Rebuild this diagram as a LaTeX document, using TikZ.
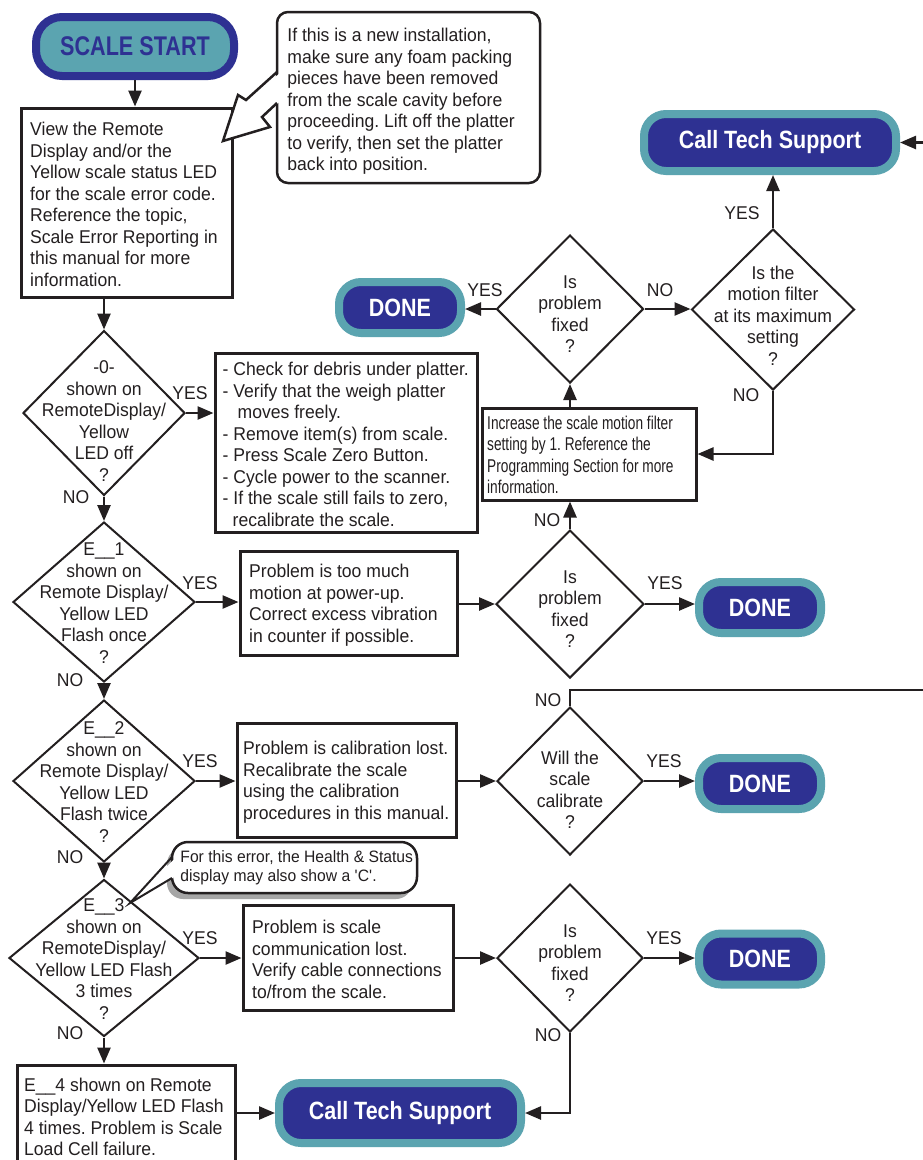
\documentclass[tikz,border=0pt]{standalone}
\usepackage{fontspec}
\usetikzlibrary{shapes.geometric,arrows.meta,shadows,calc}
\newfontfamily\bodyf[FakeStretch=0.95]{Liberation Sans}
\newfontfamily\narrf[FakeStretch=0.74]{Liberation Sans}
\newfontfamily\boldf[FakeStretch=0.86]{Liberation Sans}
\newfontfamily\startf[FakeStretch=0.8]{Liberation Sans}
\definecolor{ink}{HTML}{231F20}
\definecolor{navy}{HTML}{2E3192}
\definecolor{teal2}{HTML}{5BA4B0}
\frenchspacing
\tikzset{
 txt/.style={font=\bodyf\fontsize{18.5pt}{21.5pt}\selectfont, text=ink},
 dia/.style={diamond, draw=ink, line width=2pt, inner sep=0pt, fill=white},
 dtext/.style={txt, align=center, inner sep=0pt},
 box/.style={draw=ink, line width=3pt, inner sep=0pt, fill=white},
 btext/.style={txt, align=left, anchor=west, inner sep=0pt},
 term/.style={draw=teal2, fill=navy, line width=8pt, rounded corners=22pt, inner sep=0pt, text=white, font=\boldf\bfseries\fontsize{25pt}{30pt}\selectfont},
 startbox/.style={draw=navy, fill=teal2, line width=8pt, rounded corners=26pt, inner sep=0pt, text=navy, font=\startf\bfseries\fontsize{27pt}{30pt}\selectfont},
 arr/.style={draw=ink, line width=2.5pt, -{Triangle[length=16pt,width=13pt]}},
 conn/.style={draw=ink, line width=2.5pt},
 lbl/.style={txt, inner sep=0pt},
 callbox/.style={draw=ink, line width=2.5pt, fill=white, rounded corners=11pt, inner sep=0pt},
}
\begin{document}
\begin{tikzpicture}[x=1pt,y=-1pt]
\useasboundingbox (0,0) rectangle (923,1160);
\clip (0,0) rectangle (923,1160);
\fill[white] (0,0) rectangle (923,1160);

% ---------- left column ----------
\node[startbox, minimum width=198pt, minimum height=59pt] (start) at (135,46.5) {SCALE START};

\node[box, minimum width=211pt, minimum height=189pt,
  label={[btext, xshift=10.5pt, yshift=-2pt]west:{View the Remote\\Display and/or the\\Yellow scale status LED\\for the scale error code.\\Reference the topic,\\Scale Error Reporting in\\this manual for more\\information.}}] (view) at (126.5,202.5) {};

\node[callbox, minimum width=263pt, minimum height=171pt,
  label={[btext, xshift=11.5pt, yshift=-4pt]west:{If this is a new installation,\\make sure any foam packing\\pieces have been removed\\from the scale cavity before\\proceeding. Lift off the platter\\to verify, then set the platter\\back into position.}}] (c1) at (408.5,97.5) {};
\fill[white] (279.5,73.5) -- (246,100) -- (238,95) -- (223,141) -- (270,127) -- (262,117) -- (279.5,102) -- cycle;
\draw[ink, line width=2.5pt] (277,72) -- (246,100) -- (238,95) -- (223,141) -- (270,127) -- (262,117) -- (277,103);

\node[dia, minimum width=162pt, minimum height=165pt,
  label={[dtext, yshift=-8pt]center:{-0-\\shown on\\RemoteDisplay/\\Yellow\\LED off\\?}}] (d0) at (104,413) {};

\node[box, minimum width=262pt, minimum height=179pt,
  label={[btext, xshift=9pt, yshift=-2pt]west:{- Check for debris under platter.\\- Verify that the weigh platter\\\hspace*{15pt}moves freely.\\- Remove item(s) from scale.\\- Press Scale Zero Button.\\- Cycle power to the scanner.\\- If the scale still fails to zero,\\\hspace*{10pt}recalibrate the scale.}}] (chk) at (346,442.5) {};

\node[dia, minimum width=182pt, minimum height=160pt,
  label={[dtext, yshift=-1pt]center:{E\_\_1\\shown on\\Remote Display/\\Yellow LED\\Flash once\\?}}] (d1) at (104,602) {};

\node[box, minimum width=217pt, minimum height=104pt,
  label={[btext, xshift=10.5pt, yshift=-2pt]west:{Problem is too much\\motion at power-up.\\Correct excess vibration\\in counter if possible.}}] (e1) at (348.5,603) {};

\node[dia, minimum width=182pt, minimum height=162pt,
  label={[dtext, yshift=-1pt]center:{E\_\_2\\shown on\\Remote Display/\\Yellow LED\\Flash twice\\?}}] (d2) at (104,781) {};

\node[box, minimum width=219pt, minimum height=114pt,
  label={[btext, xshift=7.5pt, yshift=-2pt]west:{Problem is calibration lost.\\Recalibrate the scale\\using the calibration\\procedures in this manual.}}] (e2) at (346.5,780) {};

\node[dia, minimum width=190pt, minimum height=157pt,
  label={[dtext, yshift=-1pt]center:{E\_\_3\\shown on\\RemoteDisplay/\\Yellow LED Flash\\3 times\\?}}] (d3) at (104,958) {};

\node[box, minimum width=210pt, minimum height=105pt,
  label={[btext, xshift=10.5pt, yshift=-2pt]west:{Problem is scale\\communication lost.\\Verify cable connections\\to/from the scale.}}] (e3) at (348,957.5) {};

\node[box, minimum width=218pt, minimum height=110pt,
  label={[btext, xshift=8.5pt, yshift=3pt]west:{E\_\_4 shown on Remote\\Display/Yellow LED Flash\\4 times. Problem is Scale\\Load Cell failure.}}] (e4) at (126,1120) {};

\node[term, minimum width=242pt, minimum height=60pt] (cts2) at (400,1113) {Call Tech Support};

% small callout
\node[callbox, rounded corners=16pt, minimum width=245pt, minimum height=51pt,
  drop shadow={shadow xshift=-5pt, shadow yshift=-6pt, fill=black!35, opacity=1},
  label={[btext, font=\bodyf\fontsize{16.5pt}{19pt}\selectfont, xshift=9.5pt]west:{For this error, the Health \& Status\\display may also show a \textquotesingle C\textquotesingle.}}] (c2) at (294.5,867.5) {};
\fill[white] (174.5,859) -- (130,903) -- (174.5,877) -- cycle;
\draw[ink, line width=2pt] (172,857) -- (130,903) -- (172,878);

% ---------- right part ----------
\node[term, minimum width=252pt, minimum height=57pt] (cts1) at (770,142.5) {Call Tech Support};
\node[term, minimum width=122pt, minimum height=51pt] (done1) at (400,307.5) {DONE};
\node[term, minimum width=122pt, minimum height=51pt] (done2) at (760,607.5) {DONE};
\node[term, minimum width=122pt, minimum height=51pt] (done3) at (760,783.5) {DONE};
\node[term, minimum width=122pt, minimum height=51pt] (done4) at (760,959) {DONE};

\node[dia, minimum width=147pt, minimum height=148pt,
  label={[dtext, yshift=-5pt]center:{Is\\problem\\fixed\\?}}] (f0) at (570,309) {};
\node[dia, minimum width=163pt, minimum height=161pt,
  label={[dtext, yshift=-6pt]center:{Is the\\motion filter\\at its maximum\\setting\\?}}] (m) at (773,309.5) {};
\node[box, minimum width=214pt, minimum height=92pt,
  label={[btext, font=\narrf\fontsize{18.5pt}{21.5pt}\selectfont, xshift=6.5pt, yshift=-1pt]west:{Increase the scale motion filter\\setting by 1. Reference the\\Programming Section for more\\information.}}] (inc) at (589,454) {};
\node[dia, minimum width=148pt, minimum height=148pt,
  label={[dtext, yshift=-5pt]center:{Is\\problem\\fixed\\?}}] (f1) at (570,604) {};
\node[dia, minimum width=146pt, minimum height=148pt,
  label={[dtext, yshift=-9pt]center:{Will the\\scale\\calibrate\\?}}] (w) at (570,781) {};
\node[dia, minimum width=146pt, minimum height=148pt,
  label={[dtext, yshift=-5pt]center:{Is\\problem\\fixed\\?}}] (f3) at (570,958) {};

\coordinate (redge) at (923,690);
\coordinate (redge2) at (923,142.5);

% ---------- connectors ----------
\draw[arr] (start.south) -- (start.south |- view.north);
\draw[arr] (d0.north |- view.south) -- (d0.north);
\draw[arr] (d0.east) -- (d0.east -| chk.west);
\draw[arr] (d0.south) -- (d1.north);
\draw[arr] (d1.east) -- (d1.east -| e1.west);
\draw[arr] (f1.west -| e1.east) -- (f1.west);
\draw[arr] (f1.east) -- (f1.east -| done2.west);
\draw[arr] (f1.north) -- (f1.north |- inc.south);
\draw[arr] (f0.south |- inc.north) -- (f0.south);
\draw[arr] (f0.west) -- (f0.west -| done1.east);
\draw[arr] (f0.east) -- (f0.east -| m.west);
\draw[arr] (m.north) -- (m.north |- cts1.south);
\draw[arr] (m.south) |- (inc.east);
\draw[arr] (redge2) -- (cts1.east);
\draw[arr] (d1.south) -- (d2.north);
\draw[arr] (d2.east) -- (d2.east -| e2.west);
\draw[arr] (w.west -| e2.east) -- (w.west);
\draw[arr] (w.east) -- (w.east -| done3.west);
\draw[conn] (w.north) -- (w.north |- redge) -- (redge);
\draw[arr] (d2.south) -- (d3.north);
\draw[arr] (d3.east) -- (d3.east -| e3.west);
\draw[arr] (f3.west -| e3.east) -- (f3.west);
\draw[arr] (f3.east) -- (f3.east -| done4.west);
\draw[arr] (f3.south) |- (cts2.east);
\draw[arr] (d3.south) -- (d3.south |- e4.north);
\draw[arr] (cts2.west -| e4.east) -- (cts2.west);

% ---------- YES / NO labels ----------
\node[lbl] (l0y) at (190,393) {YES};
\node[lbl] (l0n) at (76,497) {NO};
\node[lbl] (l1y) at (200,583) {YES};
\node[lbl] (l1n) at (70,680) {NO};
\node[lbl] (l2y) at (200,761) {YES};
\node[lbl] (l2n) at (70,857) {NO};
\node[lbl] (l3y) at (200,938) {YES};
\node[lbl] (l3n) at (70,1033) {NO};
\node[lbl] (f0y) at (485,290) {YES};
\node[lbl] (f0n) at (660,290) {NO};
\node[lbl] (my) at (742,213) {YES};
\node[lbl] (mn) at (746,395) {NO};
\node[lbl] (f1n) at (547,520) {NO};
\node[lbl] (f1y) at (665,583) {YES};
\node[lbl] (wn) at (548,700) {NO};
\node[lbl] (wy) at (664,761) {YES};
\node[lbl] (f3y) at (664,938) {YES};
\node[lbl] (f3n) at (548,1035) {NO};
\end{tikzpicture}
\end{document}
